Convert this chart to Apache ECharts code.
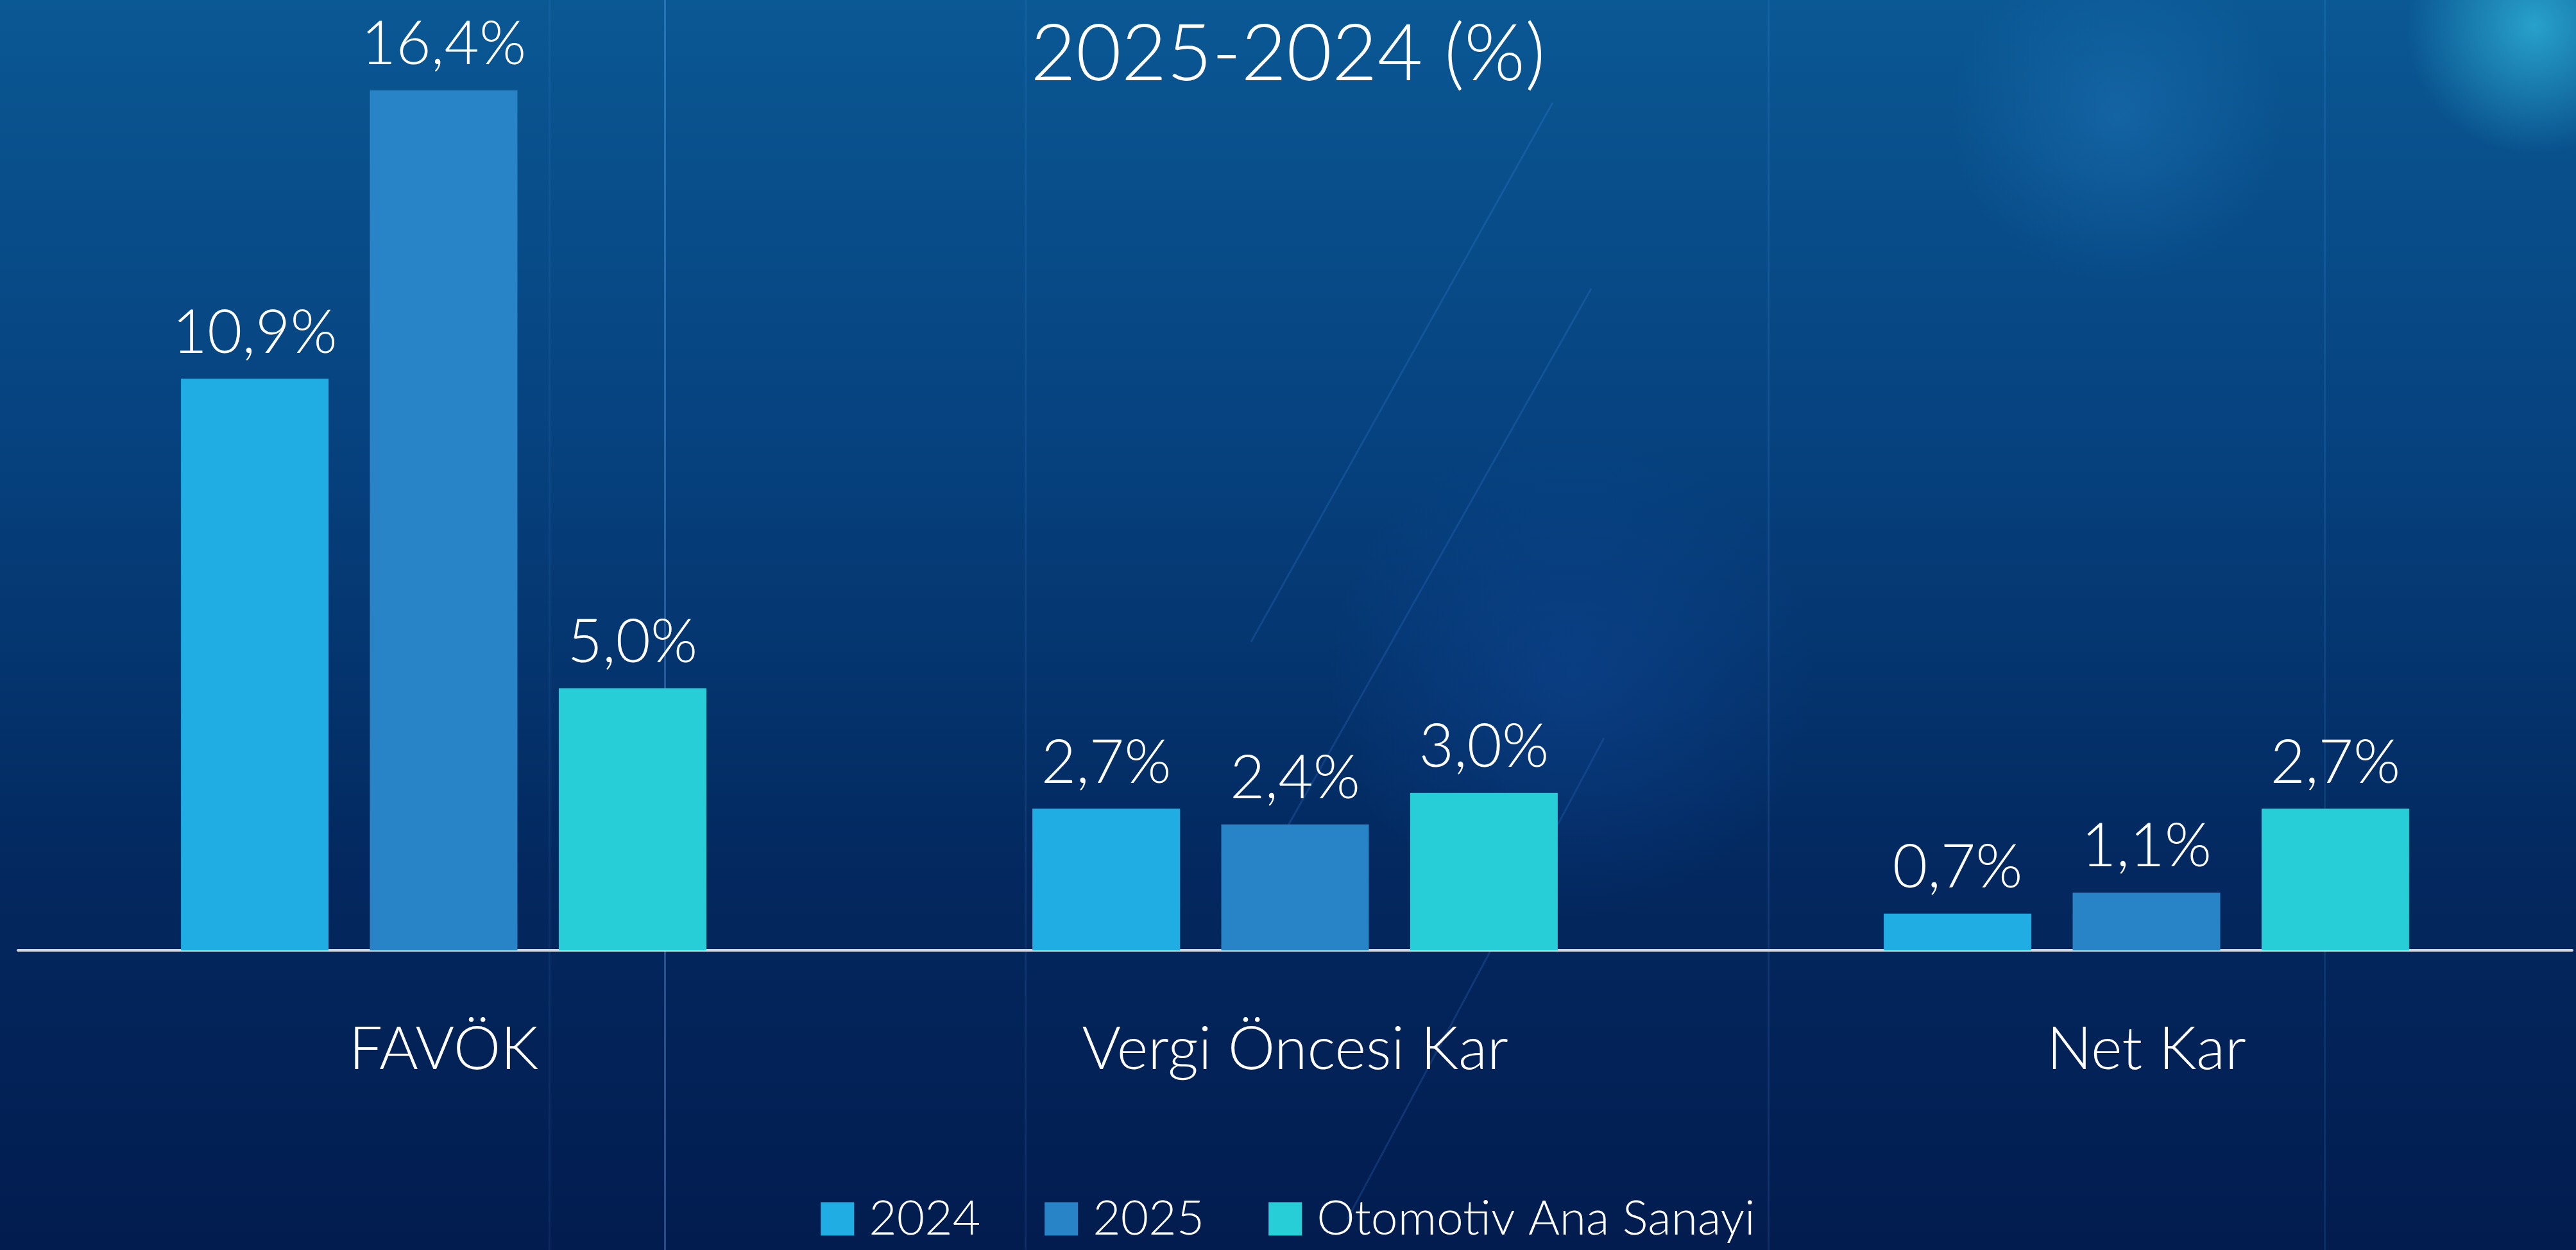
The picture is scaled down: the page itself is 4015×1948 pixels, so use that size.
<!DOCTYPE html>
<html>
<head>
<meta charset="utf-8">
<script src="https://cdn.jsdelivr.net/npm/echarts@6/dist/echarts.min.js"></script>
<style>
html,body{margin:0;padding:0;width:4015px;height:1948px;overflow:hidden;background:#03285f;}
#chart{width:4015px;height:1948px;}
</style>
</head>
<body>
<div id="chart"></div>
<script>
const titleText = '2025-2024 (%)';
const categories = ['FAVÖK', 'Vergi Öncesi Kar', 'Net Kar'];
const seriesNames = ['2024', '2025', 'Otomotiv Ana Sanayi'];
const values2024 = [10.9, 2.7, 0.7];
const values2025 = [16.4, 2.4, 1.1];
const valuesOto = [5.0, 3.0, 2.7];
const colors = ['#1fade4', '#2984c7', '#27ced7'];

const FONT = "Lato, 'DejaVu Sans Condensed', sans-serif";
const W = 300;

const chart = echarts.init(document.getElementById('chart'), null, {renderer: 'canvas'});

function fmt(v) { return v.toFixed(1).replace('.', ',') + '%'; }

function makeSeries(name, data, color) {
  return {
    name: name,
    type: 'bar',
    data: data,
    barWidth: 230,
    barGap: '28%',
    itemStyle: {color: color},
    label: {
      show: true,
      position: 'top',
      distance: 24,
      color: '#ffffff',
      fontFamily: FONT,
      fontSize: 94,
      fontWeight: W,
      formatter: p => fmt(p.value)
    },
    emphasis: {disabled: true}
  };
}

const deco = [];
[[855, 0.10], [1035, 0.35], [1597, 0.12], [2755, 0.15], [3622, 0.12]].forEach(([x, o]) => {
  deco.push({type: 'rect', shape: {x: x, y: 0, width: 3, height: 1948}, style: {fill: 'rgba(90,170,255,' + o + ')'}, silent: true, z: -10});
});
[[1950, 1000, 2420, 160], [2000, 1300, 2480, 450], [2100, 1900, 2500, 1150]].forEach(([x1, y1, x2, y2]) => {
  deco.push({type: 'line', shape: {x1, y1, x2, y2}, style: {stroke: 'rgba(80,150,255,0.18)', lineWidth: 3}, silent: true, z: -10});
});
deco.push({type: 'circle', shape: {cx: 3300, cy: 180, r: 260}, style: {fill: {type: 'radial', x: 0.5, y: 0.5, r: 0.5, colorStops: [{offset: 0, color: 'rgba(40,130,200,0.35)'}, {offset: 1, color: 'rgba(40,130,200,0)'}]}}, silent: true, z: -10});
deco.push({type: 'circle', shape: {cx: 2450, cy: 1050, r: 380}, style: {fill: {type: 'radial', x: 0.5, y: 0.5, r: 0.5, colorStops: [{offset: 0, color: 'rgba(20,80,170,0.35)'}, {offset: 1, color: 'rgba(20,80,170,0)'}]}}, silent: true, z: -10});
deco.push({type: 'circle', shape: {cx: 3950, cy: 40, r: 200}, style: {fill: {type: 'radial', x: 0.5, y: 0.5, r: 0.5, colorStops: [{offset: 0, color: 'rgba(60,210,240,0.6)'}, {offset: 1, color: 'rgba(60,210,240,0)'}]}}, silent: true, z: -10});

chart.setOption({
  backgroundColor: {
    type: 'linear', x: 0, y: 0, x2: 0, y2: 1,
    colorStops: [
      {offset: 0, color: '#0a5894'},
      {offset: 0.35, color: '#06427f'},
      {offset: 0.7, color: '#03285f'},
      {offset: 1, color: '#021c4f'}
    ]
  },
  animation: false,
  graphic: deco,
  title: {
    text: titleText,
    left: 'center',
    top: 20,
    textStyle: {color: '#ffffff', fontFamily: FONT, fontSize: 122, fontWeight: W}
  },
  legend: {
    data: seriesNames,
    bottom: 6,
    left: 'center',
    itemWidth: 52,
    itemHeight: 52,
    itemGap: 100,
    icon: 'rect',
    textStyle: {color: '#ffffff', fontFamily: FONT, fontSize: 75, fontWeight: W, padding: [0, 0, 0, 18]},
    selectedMode: false
  },
  grid: {left: 28, right: 6, top: 10, bottom: 467, containLabel: false},
  xAxis: {
    type: 'category',
    data: categories,
    axisLine: {show: true, lineStyle: {color: '#d4d8e0', width: 4}},
    axisTick: {show: false},
    axisLabel: {color: '#ffffff', fontFamily: FONT, fontSize: 93, fontWeight: W, margin: 108},
    splitLine: {show: false}
  },
  yAxis: {
    type: 'value',
    min: 0,
    max: 18,
    show: false,
    splitLine: {show: false}
  },
  series: [
    makeSeries(seriesNames[0], values2024, colors[0]),
    makeSeries(seriesNames[1], values2025, colors[1]),
    makeSeries(seriesNames[2], valuesOto, colors[2])
  ]
});
</script>
</body>
</html>
